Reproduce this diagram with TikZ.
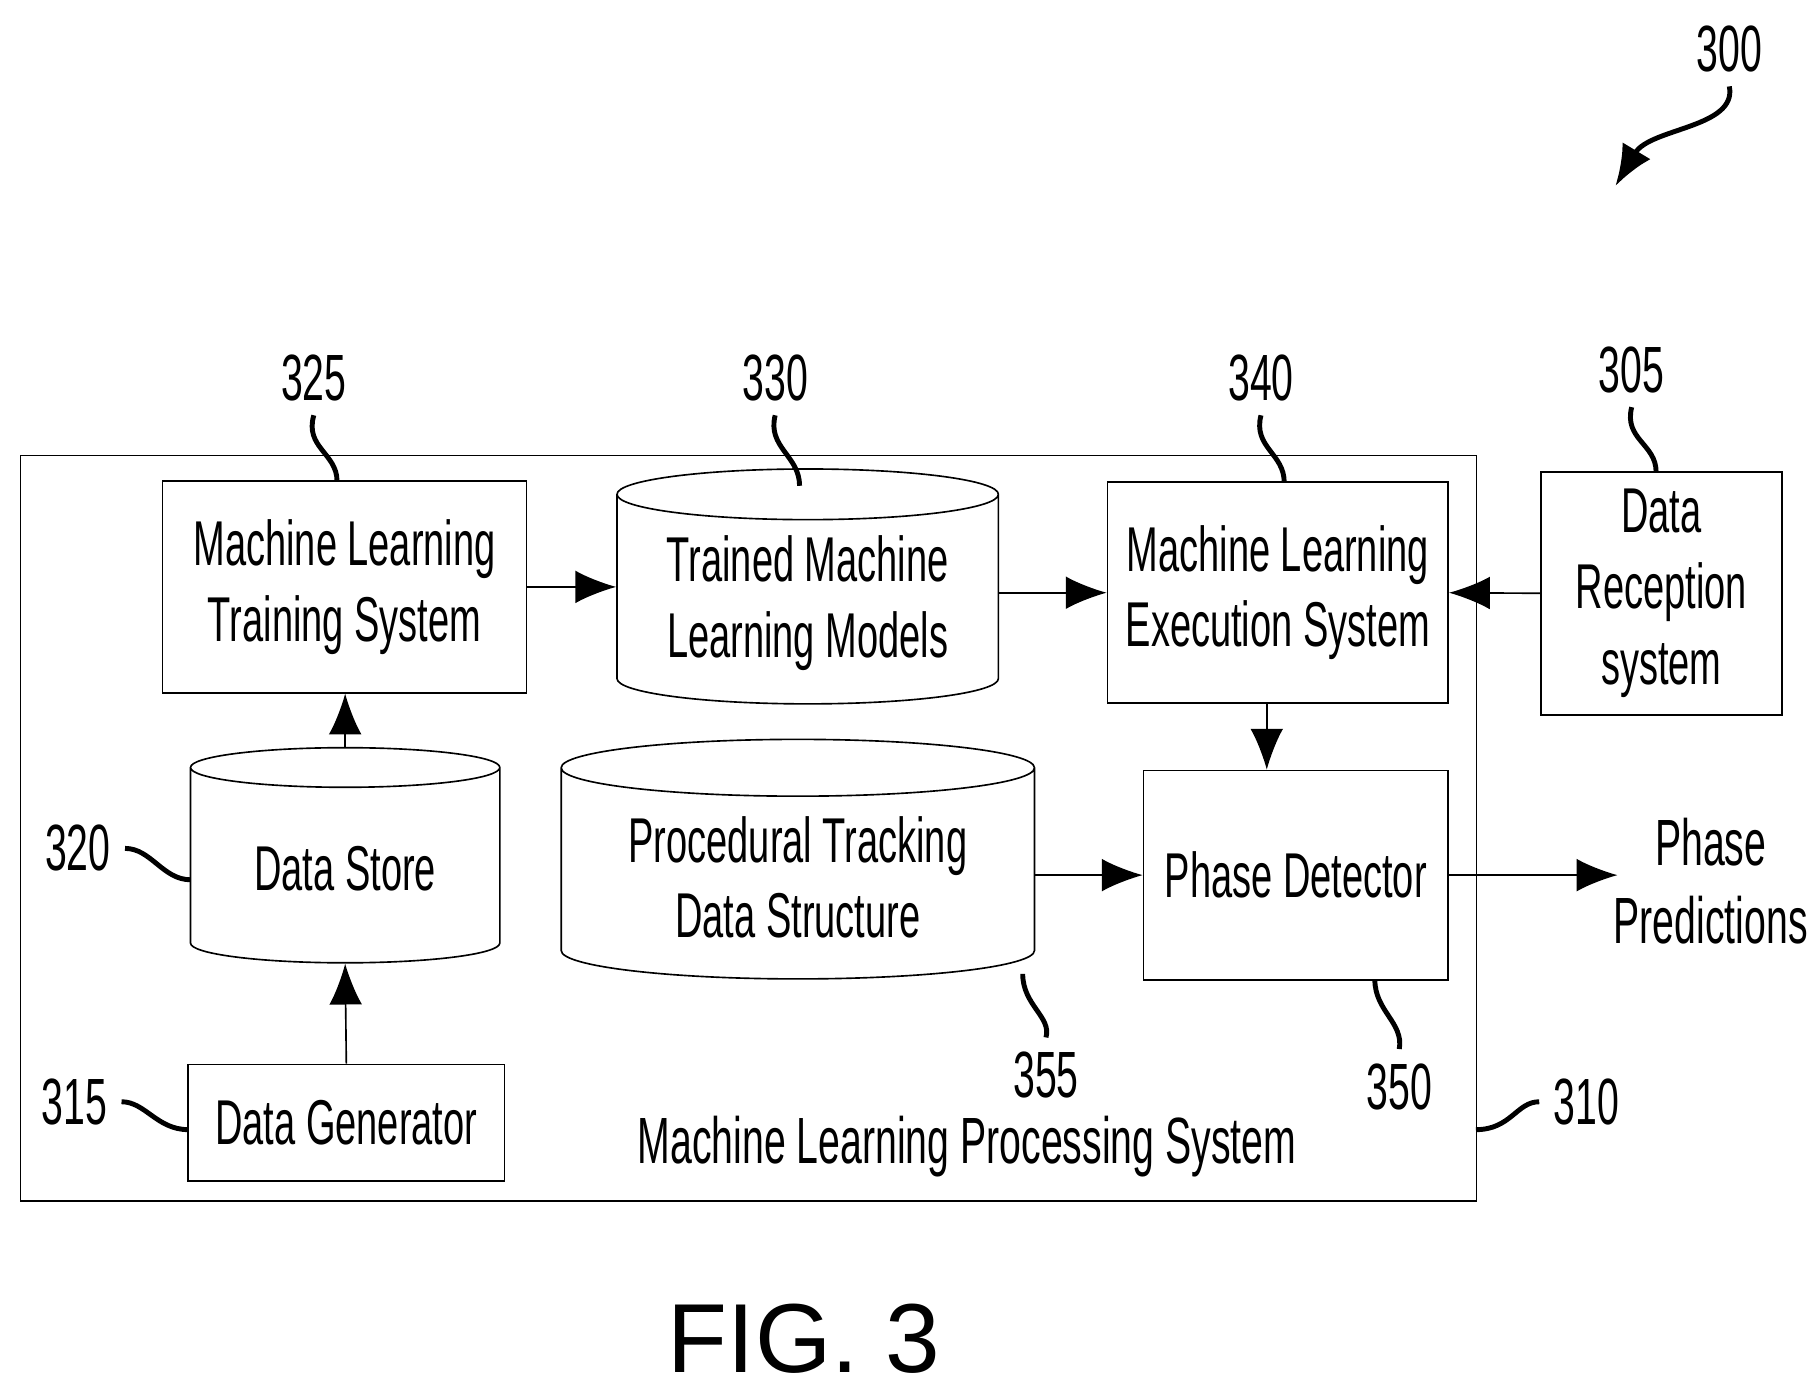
\documentclass[tikz,border=0pt]{standalone}
\usepackage{fontspec}
\setmainfont{Liberation Sans}[FakeStretch=0.6]
\newfontfamily\figfont{Liberation Sans}
\usetikzlibrary{shapes.geometric}
\usetikzlibrary{arrows.meta}
\tikzset{>={Latex[length=10pt,width=8pt]}, line width=1.6pt}
\tikzset{
  blk/.style={draw,align=center,inner sep=2pt,font=\fontsize{15.5}{18.5}\selectfont},
  cyl/.style={draw,cylinder,shape border rotate=90,align=center,inner sep=2pt,
    font=\fontsize{15.5}{18.5}\selectfont},
  num/.style={font=\fontsize{16}{19}\selectfont},
  lead/.style={line width=1.2pt},
}

\begin{document}
\begin{tikzpicture}[x=0.01cm,y=-0.01cm]
  \useasboundingbox (0,0) rectangle (1560,1200);

  % outer system
  \node[draw,minimum width=12.52cm,minimum height=6.41cm]
    (mlps) at (644,712.5) {};
  \node[num] (mlpstext) at (832,987) {Machine Learning Processing System};

  % top row
  \node[blk,minimum width=3.13cm,minimum height=1.82cm]
    (train) at (296.5,505) {Machine Learning\\Training System};
  \node[cyl,minimum width=3.28cm,minimum height=2.02cm,aspect=0.17]
    (models) at (695,519) {Trained Machine\\Learning Models};
  \node[blk,minimum width=2.93cm,minimum height=1.90cm]
    (exec) at (1099.5,510) {Machine Learning\\Execution System};
  \node[blk,minimum width=2.07cm,minimum height=2.09cm]
    (recv) at (1429.5,510.5) {Data\\Reception\\system};

  % lower rows
  \node[cyl,minimum width=2.66cm,minimum height=1.85cm,aspect=0.2]
    (store) at (297,747.5) {Data Store};
  \node[cyl,minimum width=4.07cm,minimum height=2.06cm,aspect=0.16]
    (track) at (686.5,755) {Procedural Tracking\\Data Structure};
  \node[blk,minimum width=2.62cm,minimum height=1.80cm]
    (phase) at (1115,753) {Phase Detector};
  \node[blk,minimum width=2.72cm,minimum height=1.00cm]
    (gen) at (298,966) {Data Generator};
  \node[num,align=center] (pred) at (1472,758) {Phase\\Predictions};

  % arrows
  \draw[->] (train.east) -- (models.west |- train.east);
  \draw[->] (models.east |- exec.west) -- (exec.west);
  \draw[->] (recv.west) -- (exec.east);
  \draw[->] (exec.south -| 1090,0) -- (phase.north -| 1090,0);
  \draw[->] (track.east |- phase.west) -- (phase.west);
  \draw[->] (phase.east) -- ++(145,0);
  \draw[->] (store.north) -- (train.south -| store.north);
  \draw[->] (gen.north) -- (store.south);

  % reference numerals
  \node[num] (n325) at (270,325) {325};
  \node[num] (n330) at (667,325) {330};
  \node[num] (n340) at (1085,325) {340};
  \node[num] (n305) at (1404,318) {305};
  \node[num] (n320) at (67,730) {320};
  \node[num] (n315) at (64,948) {315};
  \node[num] (n355) at (900,925) {355};
  \node[num] (n350) at (1204,935) {350};
  \node[num] (n310) at (1365,948) {310};
  \node[num] (n300) at (1488,42) {300};

  \draw[lead] (n325.south) .. controls (262,385) and (290,390) .. (290,414);
  \draw[lead] (n330.south) .. controls (660,385) and (688,392) .. (688,418);
  \draw[lead] (n340.south) .. controls (1078,385) and (1105,390) .. (1105,415);
  \draw[lead] (n305.south) .. controls (1397,378) and (1425,382) .. (1425,406);
  \draw[lead] (n320.east) .. controls (130,730) and (140,757) .. (164,757);
  \draw[lead] (n315.east) .. controls (125,948) and (135,972) .. (162,972);
  \draw[lead] (n355.north) .. controls (905,875) and (880,865) .. (880,838);
  \draw[lead] (n350.north) .. controls (1208,880) and (1183,870) .. (1183,843);
  \draw[lead] (n310.west) .. controls (1305,948) and (1300,972) .. (1270,972);
  \draw[->,lead] (n300.south) .. controls (1495,110) and (1420,110) .. (1390,160);

  \node[font=\figfont\fontsize{24}{28}\selectfont] (fig) at (692,1152) {FIG. 3};
\end{tikzpicture}
\end{document}
